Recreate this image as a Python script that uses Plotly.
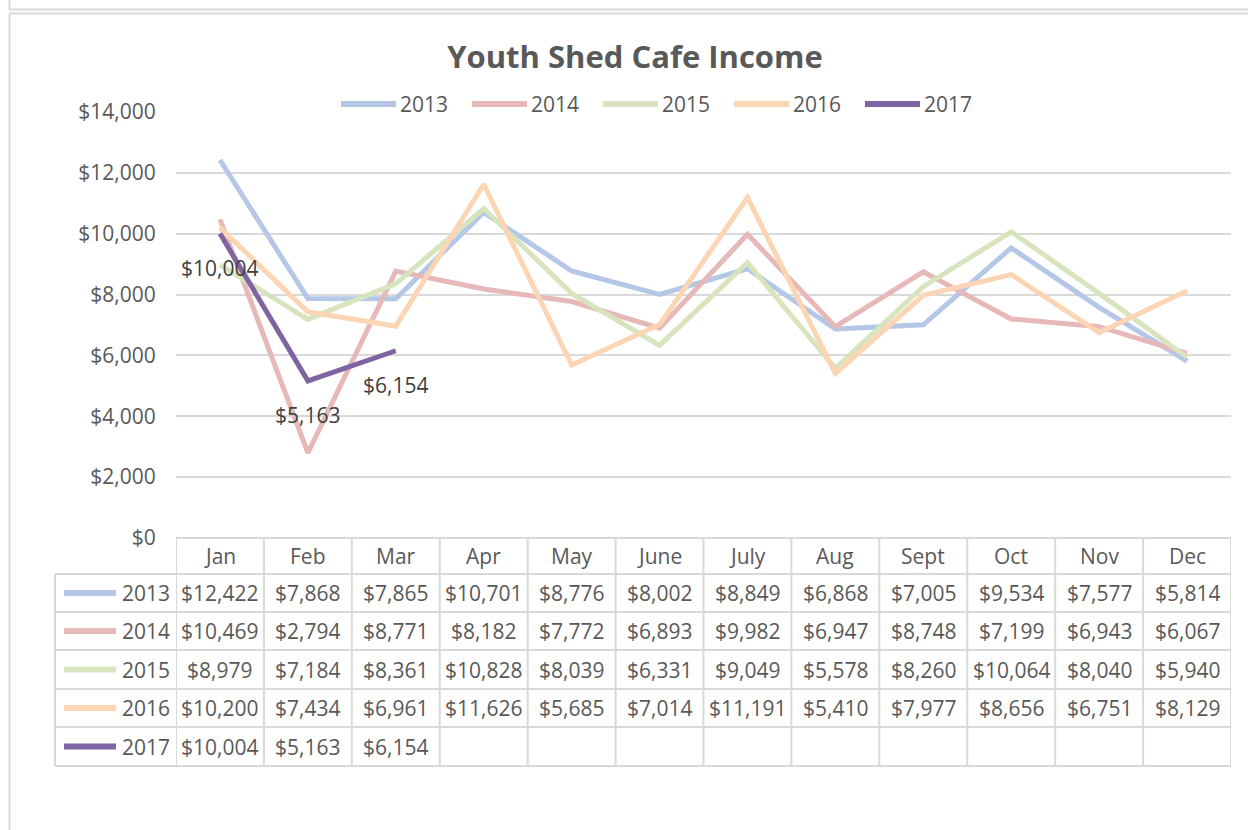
import plotly.graph_objects as go

months = ["Jan", "Feb", "Mar", "Apr", "May", "June", "July", "Aug", "Sept", "Oct", "Nov", "Dec"]
years = ["2013", "2014", "2015", "2016", "2017"]
income_2013 = [12422, 7868, 7865, 10701, 8776, 8002, 8849, 6868, 7005, 9534, 7577, 5814]
income_2014 = [10469, 2794, 8771, 8182, 7772, 6893, 9982, 6947, 8748, 7199, 6943, 6067]
income_2015 = [8979, 7184, 8361, 10828, 8039, 6331, 9049, 5578, 8260, 10064, 8040, 5940]
income_2016 = [10200, 7434, 6961, 11626, 5685, 7014, 11191, 5410, 7977, 8656, 6751, 8129]
income_2017 = [10004, 5163, 6154, None, None, None, None, None, None, None, None, None]
y_ticks = [0, 2000, 4000, 6000, 8000, 10000, 12000, 14000]

series = [income_2013, income_2014, income_2015, income_2016, income_2017]
colors = ["#b4c7e7", "#e6b9b8", "#d7e4bd", "#fcd5b5", "#8064a2"]

W, H = 1248, 830
FONT = "Open Sans"
TXT = "#595959"
GRID = "#d9d9d9"


def px(x):
    return x / W


def py(y):
    return 1 - y / H


def money(v):
    return "" if v is None else "${:,}".format(v)


fig = go.Figure()
for name, vals, col in zip(years, series, colors):
    fig.add_trace(go.Scatter(
        x=months, y=vals, name=name, mode="lines",
        line=dict(color=col, width=5), connectgaps=False, showlegend=False,
    ))

annotations = []
shapes = []

# data labels for 2017
for m, v in zip(months, income_2017):
    if v is not None:
        annotations.append(dict(
            x=m, y=v, xref="x", yref="y", text=money(v), showarrow=False,
            yshift=-34, font=dict(family=FONT, size=21, color="#404040"),
        ))

# top legend (line keys + labels)
legend_start = 341
legend_pitch = 131
for i, (name, col) in enumerate(zip(years, colors)):
    x0 = legend_start + legend_pitch * i
    shapes.append(dict(type="line", xref="paper", yref="paper", x0=px(x0), x1=px(x0 + 55),
                       y0=py(104), y1=py(104), line=dict(color=col, width=6)))
    annotations.append(dict(x=px(x0 + 57), y=py(104), xref="paper", yref="paper", text=name,
                            showarrow=False, xanchor="left", yanchor="middle",
                            font=dict(family=FONT, size=21, color=TXT)))

# data table
row_bounds = [538, 574, 612, 650, 689, 727, 766]
line_style = dict(color=GRID, width=2)
for i, yb in enumerate(row_bounds):
    if i == 0:
        shapes.append(dict(type="line", xref="x", yref="paper", x0=-0.5, x1=11.5,
                           y0=py(yb), y1=py(yb), line=line_style))
    else:
        shapes.append(dict(type="line", xref="paper", yref="paper", x0=px(55), x1=px(1231),
                           y0=py(yb), y1=py(yb), line=line_style))
for k in range(len(months) + 1):
    shapes.append(dict(type="line", xref="x", yref="paper", x0=k - 0.5, x1=k - 0.5,
                       y0=py(538), y1=py(766), line=line_style))
shapes.append(dict(type="line", xref="paper", yref="paper", x0=px(55), x1=px(55),
                   y0=py(574), y1=py(766), line=line_style))

for m in months:
    annotations.append(dict(x=m, y=py(556), xref="x", yref="paper", text=m, showarrow=False,
                            yanchor="middle", font=dict(family=FONT, size=21, color=TXT)))
for r, (name, vals, col) in enumerate(zip(years, series, colors)):
    yc = (row_bounds[r + 1] + row_bounds[r + 2]) / 2
    shapes.append(dict(type="line", xref="paper", yref="paper", x0=px(64), x1=px(116),
                       y0=py(yc), y1=py(yc), line=dict(color=col, width=6)))
    annotations.append(dict(x=px(172), y=py(yc), xref="paper", yref="paper", text=name,
                            showarrow=False, xanchor="right", yanchor="middle",
                            font=dict(family=FONT, size=21, color=TXT)))
    for m, v in zip(months, vals):
        if v is None:
            continue
        annotations.append(dict(x=m, y=py(yc), xref="x", yref="paper", text=money(v),
                                showarrow=False, yanchor="middle",
                                font=dict(family=FONT, size=21, color=TXT)))

# outer frame
frame = dict(color=GRID, width=2)
shapes += [
    dict(type="line", xref="paper", yref="paper", x0=px(9.5), x1=px(9.5), y0=py(0), y1=py(10), line=frame),
    dict(type="line", xref="paper", yref="paper", x0=px(9.5), x1=1, y0=py(9.5), y1=py(9.5), line=frame),
    dict(type="line", xref="paper", yref="paper", x0=px(9.5), x1=1, y0=py(13.5), y1=py(13.5), line=frame),
    dict(type="line", xref="paper", yref="paper", x0=px(9.5), x1=px(9.5), y0=py(13.5), y1=0, line=frame),
]

fig.update_layout(
    width=W, height=H, autosize=False,
    margin=dict(l=0, r=0, t=0, b=0, pad=0, autoexpand=False),
    paper_bgcolor="white", plot_bgcolor="white",
    font=dict(family=FONT, color=TXT),
    title=dict(text="Youth Shed Cafe Income", x=px(635), y=py(57), xanchor="center", yanchor="middle",
               font=dict(family=FONT, size=31, color=TXT, weight="bold")),
    showlegend=False,
    hovermode=False,
    xaxis=dict(domain=[px(176), px(1231)], range=[-0.5, 11.5], showticklabels=False,
               showgrid=False, zeroline=False, showline=False, ticks="", automargin=False,
               categoryorder="array", categoryarray=months),
    yaxis=dict(domain=[py(538), py(112)], range=[0, 14000], tickvals=y_ticks,
               tickformat="$,", showgrid=True, gridcolor=GRID, gridwidth=2,
               zeroline=False, showline=False, ticks="outside", ticklen=15, automargin=False,
               tickcolor="rgba(0,0,0,0)", tickfont=dict(family=FONT, size=21, color=TXT)),
    shapes=shapes, annotations=annotations,
)

fig.write_html(
    "out.html",
    config={"displayModeBar": False},
    post_script="document.body.style.margin='0px';document.body.style.overflow='hidden';",
)
